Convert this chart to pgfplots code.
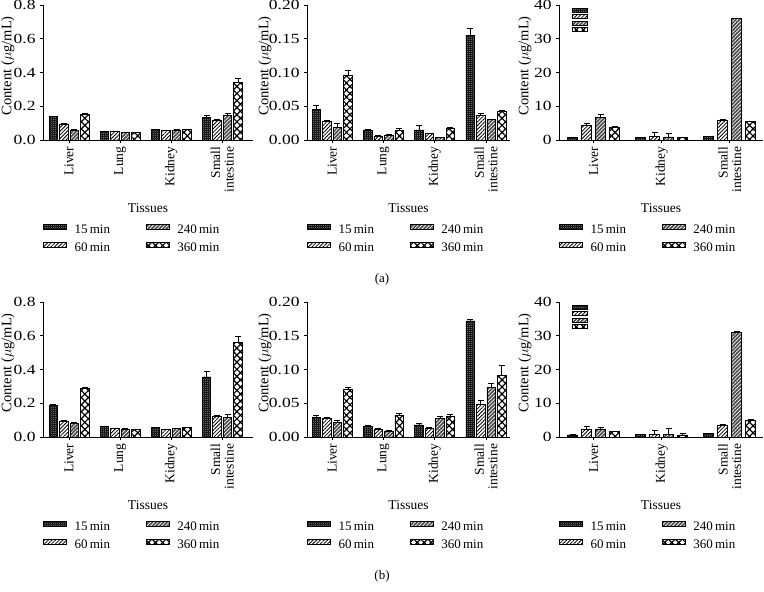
\documentclass[border=0pt]{standalone}
\usepackage{fontspec}
\setmainfont{Liberation Serif}
\usepackage{pgfplots}
\pgfplotsset{compat=1.18}
\usepackage{pgfplotstable}
\usetikzlibrary{patterns.meta}

% columns: group, value and error for 15, 60, 240, 360 min
\pgfplotstableread{
x v15 e15 v60 e60 v240 e240 v360 e360
0 0.138 0.004 0.095 0.002 0.059 0.003 0.154 0.003
1 0.051 0.002 0.051 0.003 0.043 0.004 0.045 0.002
2 0.061 0.003 0.055 0.002 0.059 0.003 0.063 0.003
3 0.136 0.011 0.119 0.006 0.148 0.012 0.340 0.025
}\tAa
\pgfplotstableread{
x v15 e15 v60 e60 v240 e240 v360 e360
0 0.045 0.006 0.028 0.001 0.019 0.005 0.096 0.007
1 0.015 0.001 0.006 0.0005 0.007 0.001 0.014 0.003
2 0.015 0.007 0.010 0.0005 0.0035 0.0005 0.018 0.001
3 0.155 0.011 0.036 0.004 0.030 0.001 0.042 0.002
}\tAb
\pgfplotstableread{
x v15 e15 v60 e60 v240 e240 v360 e360
0 0.7 0.05 4.4 0.6 6.6 1.0 3.75 0.2
1 0.7 0.05 1.0 1.4 0.9 1.1 0.7 0.1
2 1.1 0.1 5.8 0.2 35.9 0.2 5.4 0.1
}\tAc
\pgfplotstableread{
x v15 e15 v60 e60 v240 e240 v360 e360
0 0.188 0.005 0.095 0.002 0.083 0.004 0.290 0.003
1 0.063 0.002 0.049 0.002 0.047 0.003 0.043 0.002
2 0.055 0.002 0.043 0.002 0.049 0.003 0.057 0.003
3 0.356 0.034 0.122 0.004 0.115 0.017 0.563 0.035
}\tBa
\pgfplotstableread{
x v15 e15 v60 e60 v240 e240 v360 e360
0 0.029 0.003 0.028 0.001 0.022 0.003 0.070 0.004
1 0.016 0.001 0.012 0.0005 0.009 0.0005 0.032 0.003
2 0.018 0.002 0.013 0.001 0.027 0.004 0.031 0.003
3 0.172 0.002 0.048 0.007 0.074 0.005 0.091 0.015
}\tBb
\pgfplotstableread{
x v15 e15 v60 e60 v240 e240 v360 e360
0 0.6 0.05 2.2 1.0 2.4 0.6 1.7 0.1
1 0.7 0.1 0.8 1.1 0.7 1.9 0.6 0.6
2 1.0 0.1 3.6 0.1 31.1 0.1 5.0 0.1
}\tBc

\tikzset{
 p15/.style={draw=black, line width=0.7pt, fill=black!60, postaction={pattern={Hatch[angle=0,distance=2pt,line width=0.7pt]}, pattern color=black!90}},
 p60/.style={draw=black, line width=0.7pt, fill=white, postaction={pattern={Lines[angle=45,distance=2.6pt,line width=0.8pt]}, pattern color=black}},
 p240/.style={draw=black, line width=0.7pt, fill=black!70, postaction={pattern={Lines[angle=45,distance=2.6pt,line width=0.7pt]}, pattern color=white}},
 p360/.style={draw=black, line width=0.7pt, fill=white, postaction={pattern={Hatch[angle=45,distance=5pt,line width=1.2pt]}, pattern color=black}},
}
\newcommand{\lt}[1]{\makebox[40pt][l]{#1\,min}}

\pgfplotsset{
  panel/.style={
    scale only axis, anchor=south west, height=135pt,
    axis x line*=bottom, axis y line*=left,
    axis line style={line width=0.8pt, -},
    ymin=0, tick align=outside, major tick length=3pt,
    tick style={line width=0.8pt, black},
    xticklabel style={rotate=90, anchor=east, align=right, font=\fontsize{13.5}{13.5}\selectfont},
    yticklabel style={font=\fontsize{14}{14}\selectfont, xscale=1.25},
    /pgf/number format/assume math mode=true,
    ybar, bar width=8.5pt,
    xlabel={Tissues},
    xlabel style={at={(axis description cs:0.5,0)}, anchor=center, yshift=-68pt, font=\fontsize{13.5}{13.5}\selectfont},
    ylabel={Content ($\mu$g/mL)},
    ylabel style={rotate=0, anchor=center, font=\fontsize{14.5}{14.5}\selectfont},
    legend columns=2,
    legend image code/.code={\draw[##1] (0pt,0.5pt) rectangle (23pt,5.5pt);},
    legend style={at={(0,0)}, anchor=north west, yshift=-84pt, draw=none, fill=none,
      inner sep=0pt, outer sep=0pt, font=\fontsize{13}{13}\selectfont, row sep=7pt,
      nodes={inner sep=0pt, outer sep=0pt},
      /tikz/every odd column/.append style={column sep=8pt},
      /tikz/every even column/.append style={column sep=31pt}},
    error bars/error bar style={line width=0.7pt, black},
    error bars/error mark options={line width=0.7pt, black, mark size=3pt, rotate=90},
  },
  four/.style={xtick={0,1,2,3}, xticklabels={Liver, Lung, Kidney, {Small\\intestine}}},
  three/.style={xtick={0,1,2}, xticklabels={Liver, Kidney, {Small\\intestine}}, xmin=-0.51, xmax=2.49, bar width=10pt},
  sA/.style={bar shift=-15.75pt}, sB/.style={bar shift=-5.25pt}, sC/.style={bar shift=5.25pt}, sD/.style={bar shift=15.75pt},
  tA/.style={bar shift=-21pt}, tB/.style={bar shift=-7pt}, tC/.style={bar shift=7pt}, tD/.style={bar shift=21pt},
  eb/.style={error bars/.cd, y dir=plus, y explicit},
  inlegend/.style={
    at={(559pt,#1)}, anchor=south west, scale only axis, width=204pt, height=135pt,
    hide axis, xmin=0, xmax=1, ymin=0, ymax=1,
    legend image code/.code={\draw[##1] (0pt,-2pt) rectangle (15pt,2pt);},
    legend style={at={(0.0637,0.985)}, anchor=north west, draw=none, fill=none,
      inner sep=0pt, outer sep=0pt, nodes={inner sep=0pt, outer sep=0pt}},
  },
}

\newcommand{\fourbars}[1]{%
  \addplot[p15, sA, forget plot, eb] table[x=x, y=v15, y error=e15] {#1};
  \addplot[p60, sB, forget plot, eb] table[x=x, y=v60, y error=e60] {#1};
  \addplot[p240, sC, forget plot, eb] table[x=x, y=v240, y error=e240] {#1};
  \addplot[p360, sD, forget plot, eb] table[x=x, y=v360, y error=e360] {#1};
  \addlegendimage{p15}\addlegendentry{\lt{15}}
  \addlegendimage{p240}\addlegendentry{\lt{240}}
  \addlegendimage{p60}\addlegendentry{\lt{60}}
  \addlegendimage{p360}\addlegendentry{\lt{360}}
}
\newcommand{\threebars}[1]{%
  \addplot[p15, tA, forget plot, eb] table[x=x, y=v15, y error=e15] {#1};
  \addplot[p60, tB, forget plot, eb] table[x=x, y=v60, y error=e60] {#1};
  \addplot[p240, tC, forget plot, eb] table[x=x, y=v240, y error=e240] {#1};
  \addplot[p360, tD, forget plot, eb] table[x=x, y=v360, y error=e360] {#1};
  \addlegendimage{p15}\addlegendentry{\lt{15}}
  \addlegendimage{p240}\addlegendentry{\lt{240}}
  \addlegendimage{p60}\addlegendentry{\lt{60}}
  \addlegendimage{p360}\addlegendentry{\lt{360}}
}
\newcommand{\inleg}{%
  \addlegendimage{p15}\addlegendentry{\rule[-4.85pt]{0pt}{9.7pt}}
  \addlegendimage{p60}\addlegendentry{\rule[-4.85pt]{0pt}{9.7pt}}
  \addlegendimage{p240}\addlegendentry{\rule[-4.85pt]{0pt}{9.7pt}}
  \addlegendimage{p360}\addlegendentry{\rule[-4.85pt]{0pt}{9.7pt}}
}

\begin{document}
\begin{tikzpicture}
\useasboundingbox (0pt,0pt) rectangle (764pt,-592pt);

% ---------- row (a) ----------
\begin{axis}[panel, four, at={(43pt,-140pt)}, width=210pt, xmin=-0.51, xmax=3.6,
  ymax=0.8, ytick={0,0.2,0.4,0.6,0.8},
  yticklabel style={/pgf/number format/.cd, fixed, fixed zerofill, precision=1},
  ylabel style={at={(axis description cs:-0.167,0.55)}, rotate=0}]
\fourbars{\tAa}
\end{axis}

\begin{axis}[panel, four, at={(307pt,-140pt)}, width=203pt, xmin=-0.49, xmax=3.47,
  ymax=0.2, ytick={0,0.05,0.1,0.15,0.2},
  yticklabel style={/pgf/number format/.cd, fixed, fixed zerofill, precision=2},
  ylabel style={at={(axis description cs:-0.207,0.55)}}]
\fourbars{\tAb}
\end{axis}

\begin{axis}[panel, three, at={(559pt,-140pt)}, width=204pt,
  ymax=40, ytick={0,10,20,30,40},
  ylabel style={at={(axis description cs:-0.167,0.55)}}]
\threebars{\tAc}
\end{axis}
\begin{axis}[inlegend=-140pt]
\inleg
\end{axis}

\node[font=\fontsize{13}{13}\selectfont] at (382pt,-279pt) {(a)};

% ---------- row (b) ----------
\begin{axis}[panel, four, at={(43pt,-437pt)}, width=210pt, xmin=-0.51, xmax=3.6,
  ymax=0.8, ytick={0,0.2,0.4,0.6,0.8},
  yticklabel style={/pgf/number format/.cd, fixed, fixed zerofill, precision=1},
  ylabel style={at={(axis description cs:-0.167,0.55)}}]
\fourbars{\tBa}
\end{axis}

\begin{axis}[panel, four, at={(307pt,-437pt)}, width=203pt, xmin=-0.49, xmax=3.47,
  ymax=0.2, ytick={0,0.05,0.1,0.15,0.2},
  yticklabel style={/pgf/number format/.cd, fixed, fixed zerofill, precision=2},
  ylabel style={at={(axis description cs:-0.207,0.55)}}]
\fourbars{\tBb}
\end{axis}

\begin{axis}[panel, three, at={(559pt,-437pt)}, width=204pt,
  ymax=40, ytick={0,10,20,30,40},
  ylabel style={at={(axis description cs:-0.167,0.55)}}]
\threebars{\tBc}
\end{axis}
\begin{axis}[inlegend=-437pt]
\inleg
\end{axis}

\node[font=\fontsize{13}{13}\selectfont] at (382pt,-576pt) {(b)};
\end{tikzpicture}
\end{document}
